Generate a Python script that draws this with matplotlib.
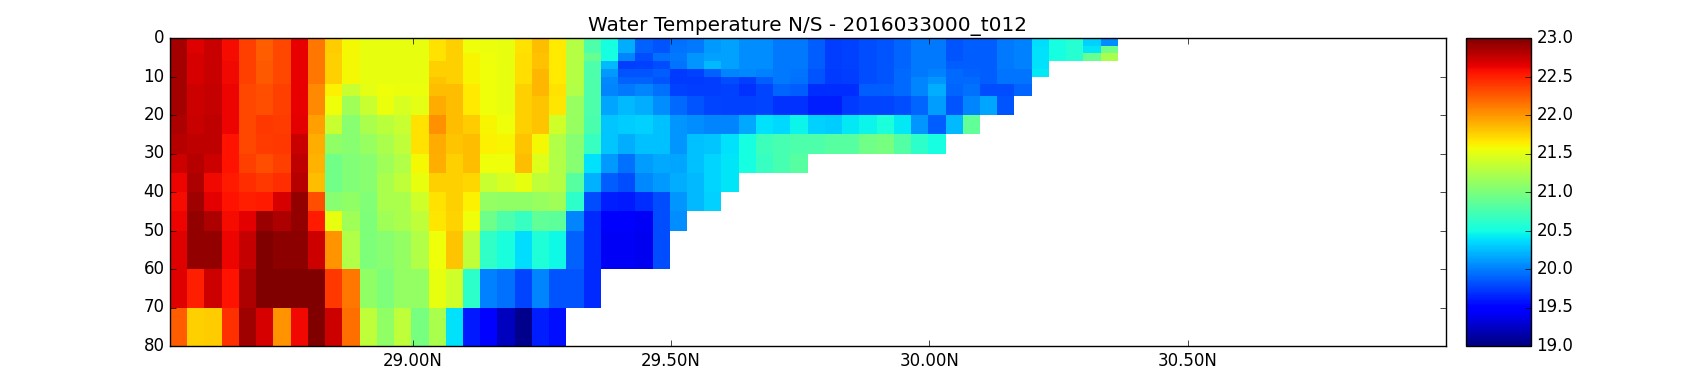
import numpy as np
import matplotlib
matplotlib.use("Agg")
import matplotlib.pyplot as plt

plt.style.use("classic")

title = "Water Temperature N/S - 2016033000_t012"
depth_edges = [0, 2, 4, 6, 8, 10, 12, 15, 20, 25, 30, 35, 40, 45, 50, 60, 70, 80]
lat_ticks = [29.0, 29.5, 30.0, 30.5]
lat_labels = ["29.00N", "29.50N", "30.00N", "30.50N"]
depth_ticks = [0, 10, 20, 30, 40, 50, 60, 70, 80]
cbar_ticks = [19.0, 19.5, 20.0, 20.5, 21.0, 21.5, 22.0, 22.5, 23.0]

# one list per latitude column, surface to bottom, missing cells below the seabed
columns = [
    [22.87, 22.87, 22.87, 22.87, 22.87, 22.87, 22.87, 22.87, 22.83, 22.8, 22.73, 22.62, 22.58, 22.62, 22.66, 22.66, 22.24],
    [22.66, 22.66, 22.7, 22.7, 22.7, 22.7, 22.72, 22.72, 22.74, 22.78, 22.8, 22.83, 22.88, 22.93, 22.93, 22.5, 21.75],
    [22.74, 22.74, 22.74, 22.74, 22.74, 22.74, 22.76, 22.76, 22.78, 22.78, 22.72, 22.6, 22.65, 22.83, 22.93, 22.72, 21.78],
    [22.58, 22.58, 22.58, 22.6, 22.6, 22.6, 22.62, 22.62, 22.62, 22.55, 22.55, 22.52, 22.55, 22.58, 22.62, 22.55, 22.43],
    [22.37, 22.37, 22.37, 22.37, 22.37, 22.37, 22.34, 22.34, 22.34, 22.34, 22.37, 22.44, 22.5, 22.65, 22.76, 22.83, 22.88],
    [22.24, 22.24, 22.24, 22.26, 22.26, 22.26, 22.3, 22.3, 22.4, 22.39, 22.3, 22.4, 22.52, 22.9, 23.0, 23.0, 22.7],
    [22.34, 22.34, 22.34, 22.34, 22.34, 22.34, 22.37, 22.37, 22.39, 22.4, 22.37, 22.44, 22.7, 22.83, 22.95, 23.0, 22.0],
    [22.63, 22.63, 22.63, 22.63, 22.63, 22.63, 22.63, 22.63, 22.65, 22.74, 22.78, 22.8, 22.93, 22.93, 22.95, 23.0, 22.6],
    [22.13, 22.13, 22.13, 22.13, 22.13, 22.13, 22.06, 22.06, 21.96, 21.9, 21.88, 21.83, 22.3, 22.52, 22.73, 23.0, 23.0],
    [21.78, 21.78, 21.76, 21.76, 21.76, 21.76, 21.62, 21.55, 21.36, 21.1, 20.95, 20.95, 21.05, 21.52, 22.0, 22.4, 22.72],
    [21.58, 21.58, 21.58, 21.58, 21.58, 21.58, 21.36, 21.18, 21.05, 21.05, 21.02, 21.02, 21.1, 21.18, 21.25, 22.13, 22.17],
    [21.52, 21.52, 21.52, 21.52, 21.52, 21.52, 21.5, 21.36, 21.22, 21.13, 21.06, 21.06, 21.02, 21.0, 21.0, 21.1, 21.32],
    [21.52, 21.52, 21.52, 21.52, 21.52, 21.52, 21.56, 21.54, 21.3, 21.22, 21.18, 21.22, 21.22, 21.18, 21.05, 21.0, 21.1],
    [21.53, 21.53, 21.53, 21.53, 21.53, 21.53, 21.54, 21.44, 21.36, 21.32, 21.26, 21.32, 21.22, 21.22, 21.12, 21.12, 21.32],
    [21.53, 21.53, 21.53, 21.53, 21.53, 21.53, 21.54, 21.5, 21.68, 21.68, 21.58, 21.52, 21.4, 21.32, 21.26, 21.12, 20.98],
    [21.68, 21.68, 21.68, 21.76, 21.76, 21.8, 21.83, 21.92, 22.03, 21.92, 21.9, 21.76, 21.68, 21.66, 21.56, 21.52, 21.22],
    [21.76, 21.76, 21.76, 21.76, 21.76, 21.76, 21.83, 21.83, 21.83, 21.8, 21.76, 21.76, 21.76, 21.74, 21.8, 21.4, 20.38],
    [21.55, 21.55, 21.6, 21.6, 21.6, 21.6, 21.65, 21.65, 21.78, 21.83, 21.83, 21.72, 21.62, 21.55, 21.32, 20.62, 19.6],
    [21.54, 21.54, 21.55, 21.55, 21.55, 21.55, 21.56, 21.56, 21.6, 21.62, 21.55, 21.36, 21.12, 20.93, 20.63, 20.0, 19.5],
    [21.52, 21.52, 21.52, 21.52, 21.52, 21.52, 21.52, 21.52, 21.55, 21.6, 21.55, 21.44, 21.1, 20.78, 20.52, 19.94, 19.22],
    [21.68, 21.68, 21.7, 21.7, 21.7, 21.7, 21.76, 21.76, 21.76, 21.8, 21.83, 21.52, 21.1, 20.66, 20.36, 19.78, 19.05],
    [21.83, 21.83, 21.82, 21.82, 21.87, 21.87, 21.87, 21.8, 21.8, 21.58, 21.48, 21.32, 21.14, 20.87, 20.56, 20.03, 19.62],
    [21.65, 21.65, 21.65, 21.65, 21.65, 21.65, 21.68, 21.66, 21.4, 21.26, 21.26, 21.28, 21.18, 20.85, 20.47, 19.84, 19.56],
    [21.28, 21.28, 21.28, 21.28, 21.28, 21.28, 21.25, 21.13, 21.13, 21.06, 21.06, 20.82, 20.62, 20.03, 19.88, 19.84, np.nan],
    [20.78, 20.78, 20.9, 20.78, 20.78, 20.78, 20.78, 20.78, 20.75, 20.66, 20.38, 20.2, 19.8, 19.66, 19.66, 19.66, np.nan],
    [20.5, 20.5, 20.5, 20.22, 20.1, 20.04, 20.02, 20.15, 20.28, 20.28, 20.1, 19.86, 19.62, 19.46, 19.42, np.nan, np.nan],
    [20.18, 20.18, 20.02, 19.74, 19.84, 19.88, 19.98, 20.22, 20.3, 20.18, 19.94, 19.8, 19.6, 19.46, 19.42, np.nan, np.nan],
    [19.88, 19.88, 19.8, 19.76, 19.84, 19.88, 20.02, 20.18, 20.32, 20.26, 20.12, 20.04, 19.68, 19.42, 19.4, np.nan, np.nan],
    [19.84, 19.84, 19.94, 19.8, 19.86, 19.84, 19.94, 20.06, 20.26, 20.26, 20.16, 20.1, 19.8, 19.8, 19.8, np.nan, np.nan],
    [19.94, 19.96, 19.98, 19.96, 19.72, 19.72, 19.75, 19.92, 20.08, 20.08, 20.15, 20.18, 20.08, 20.06, np.nan, np.nan, np.nan],
    [19.98, 19.98, 20.08, 20.08, 19.76, 19.72, 19.74, 19.84, 20.06, 20.26, 20.26, 20.22, 20.22, np.nan, np.nan, np.nan, np.nan],
    [20.1, 20.1, 20.14, 20.22, 19.88, 19.74, 19.74, 19.77, 20.02, 20.28, 20.34, 20.34, 20.32, np.nan, np.nan, np.nan, np.nan],
    [20.14, 20.14, 20.14, 20.14, 20.02, 19.8, 19.76, 19.76, 20.02, 20.38, 20.4, 20.4, np.nan, np.nan, np.nan, np.nan, np.nan],
    [20.06, 20.06, 20.06, 20.06, 20.04, 19.74, 19.7, 19.76, 20.16, 20.5, 20.5, np.nan, np.nan, np.nan, np.nan, np.nan, np.nan],
    [20.06, 20.06, 20.06, 20.06, 20.0, 19.86, 19.78, 19.78, 20.38, 20.7, 20.66, np.nan, np.nan, np.nan, np.nan, np.nan, np.nan],
    [19.98, 19.98, 19.98, 19.98, 19.98, 19.98, 19.9, 19.7, 20.35, 20.74, 20.74, np.nan, np.nan, np.nan, np.nan, np.nan, np.nan],
    [19.98, 19.98, 19.98, 19.98, 19.96, 19.94, 19.86, 19.7, 20.46, 20.78, 20.82, np.nan, np.nan, np.nan, np.nan, np.nan, np.nan],
    [19.86, 19.86, 19.86, 19.86, 19.84, 19.84, 19.68, 19.62, 20.32, 20.78, np.nan, np.nan, np.nan, np.nan, np.nan, np.nan, np.nan],
    [19.74, 19.74, 19.74, 19.74, 19.72, 19.72, 19.68, 19.62, 20.3, 20.82, np.nan, np.nan, np.nan, np.nan, np.nan, np.nan, np.nan],
    [19.76, 19.76, 19.76, 19.76, 19.74, 19.74, 19.68, 19.72, 20.42, 20.82, np.nan, np.nan, np.nan, np.nan, np.nan, np.nan, np.nan],
    [19.8, 19.8, 19.8, 19.8, 19.8, 19.8, 19.86, 19.78, 20.46, 20.94, np.nan, np.nan, np.nan, np.nan, np.nan, np.nan, np.nan],
    [19.84, 19.84, 19.84, 19.84, 19.84, 19.84, 19.86, 19.78, 20.54, 20.98, np.nan, np.nan, np.nan, np.nan, np.nan, np.nan, np.nan],
    [19.9, 19.9, 19.9, 19.9, 19.92, 19.92, 19.92, 19.8, 20.42, 20.8, np.nan, np.nan, np.nan, np.nan, np.nan, np.nan, np.nan],
    [19.98, 19.98, 19.98, 19.98, 19.98, 20.02, 20.02, 19.9, 20.08, 20.62, np.nan, np.nan, np.nan, np.nan, np.nan, np.nan, np.nan],
    [19.98, 19.98, 19.98, 19.98, 20.0, 20.08, 20.18, 20.12, 19.86, 20.5, np.nan, np.nan, np.nan, np.nan, np.nan, np.nan, np.nan],
    [19.84, 19.84, 19.84, 19.86, 19.92, 19.92, 19.9, 19.84, 20.22, np.nan, np.nan, np.nan, np.nan, np.nan, np.nan, np.nan, np.nan],
    [19.86, 19.86, 19.86, 19.86, 19.88, 19.92, 19.94, 20.02, 20.86, np.nan, np.nan, np.nan, np.nan, np.nan, np.nan, np.nan, np.nan],
    [19.86, 19.86, 19.86, 19.86, 19.86, 19.86, 19.8, 20.15, np.nan, np.nan, np.nan, np.nan, np.nan, np.nan, np.nan, np.nan, np.nan],
    [19.98, 19.98, 19.98, 19.98, 19.96, 19.96, 19.8, 19.84, np.nan, np.nan, np.nan, np.nan, np.nan, np.nan, np.nan, np.nan, np.nan],
    [20.0, 20.0, 20.0, 20.0, 19.96, 19.96, 19.9, np.nan, np.nan, np.nan, np.nan, np.nan, np.nan, np.nan, np.nan, np.nan, np.nan],
    [20.36, 20.38, 20.38, 20.38, 20.42, np.nan, np.nan, np.nan, np.nan, np.nan, np.nan, np.nan, np.nan, np.nan, np.nan, np.nan, np.nan],
    [20.5, 20.5, 20.5, np.nan, np.nan, np.nan, np.nan, np.nan, np.nan, np.nan, np.nan, np.nan, np.nan, np.nan, np.nan, np.nan, np.nan],
    [20.58, 20.58, 20.58, np.nan, np.nan, np.nan, np.nan, np.nan, np.nan, np.nan, np.nan, np.nan, np.nan, np.nan, np.nan, np.nan, np.nan],
    [20.32, 20.4, 20.9, np.nan, np.nan, np.nan, np.nan, np.nan, np.nan, np.nan, np.nan, np.nan, np.nan, np.nan, np.nan, np.nan, np.nan],
    [20.06, 20.94, 21.22, np.nan, np.nan, np.nan, np.nan, np.nan, np.nan, np.nan, np.nan, np.nan, np.nan, np.nan, np.nan, np.nan, np.nan],
]

temps = np.ma.masked_invalid(np.array(columns).T)
lat_edges = 28.53 + np.arange(temps.shape[1] + 1) * 0.03336

fig = plt.figure(figsize=(17, 3.84), dpi=100, facecolor="white")
ax = fig.add_axes([170 / 1700, 1 - 346 / 384, 1276 / 1700, 308 / 384])
mesh = ax.pcolormesh(lat_edges, depth_edges, temps, cmap="jet", vmin=19, vmax=23, edgecolors="none", linewidth=0)
ax.set_xlim(28.53, 31.0)
ax.set_ylim(80, 0)
ax.set_xticks(lat_ticks)
ax.set_xticklabels(lat_labels)
ax.set_yticks(depth_ticks)
ax.tick_params(labelsize=12)
ax.set_title(title, fontsize=14.4)

cax = fig.add_axes([1466 / 1700, 1 - 346 / 384, 65 / 1700, 308 / 384])
cbar = fig.colorbar(mesh, cax=cax)
cbar.set_ticks(cbar_ticks)
cbar.set_ticklabels(["%.1f" % t for t in cbar_ticks])
cbar.ax.tick_params(labelsize=12)

fig.savefig("out.png", dpi=100, facecolor="white")
